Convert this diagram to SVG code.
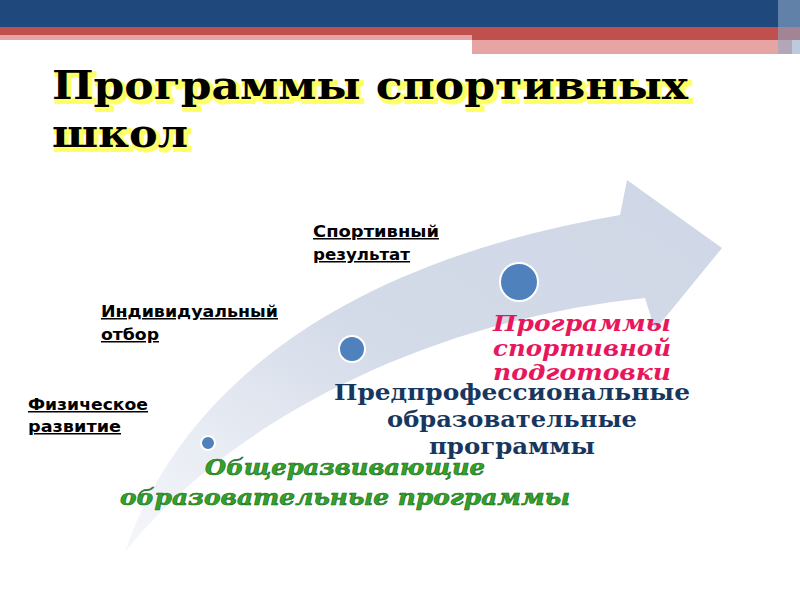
<svg xmlns="http://www.w3.org/2000/svg" width="800" height="600" viewBox="0 0 800 600">
<defs>
<style>
.lbl{font-family:"DejaVu Sans","Liberation Sans",sans-serif;font-weight:bold;font-size:15px;fill:#000;text-decoration:underline}
.ttl{font-family:"DejaVu Serif","Liberation Serif",serif;font-weight:bold;font-size:40px}
.big{font-family:"DejaVu Serif","Liberation Serif",serif;font-weight:bold;font-size:22px;text-anchor:middle}
.dot{fill:#4f81bd;stroke:#fff;stroke-width:2}
</style>
<linearGradient id="ag" x1="0" y1="1" x2="1" y2="0">
<stop offset="0" stop-color="#dde3ee" stop-opacity="0.3"/>
<stop offset="0.5" stop-color="#d3dae8"/>
<stop offset="1" stop-color="#cfd7e6"/>
</linearGradient>
</defs>
<rect width="800" height="600" fill="#fff"/>
<rect x="0" y="0" width="800" height="27" fill="#1f497d"/>
<rect x="0" y="27" width="800" height="13" fill="#c0504d"/>
<rect x="0" y="35" width="472" height="5" fill="#e6a5a4"/>
<rect x="472" y="40" width="320" height="14" fill="#e6a5a4"/>
<rect x="778" y="0" width="22" height="54" fill="#8fa7c6" opacity="0.6"/>
<g id="title">
<text class="ttl" x="55" y="102" fill="#ffff66" stroke="#ffff66" stroke-width="4" textLength="636" lengthAdjust="spacingAndGlyphs">Программы спортивных</text>
<text class="ttl" x="55" y="150" fill="#ffff66" stroke="#ffff66" stroke-width="4" textLength="136" lengthAdjust="spacingAndGlyphs">школ</text>
<text class="ttl" x="52" y="99" fill="#000" textLength="636" lengthAdjust="spacingAndGlyphs">Программы спортивных</text>
<text class="ttl" x="52" y="147" fill="#000" textLength="136" lengthAdjust="spacingAndGlyphs">школ</text>
</g>
<g id="arrow">
<path d="M125,552 C170,420 300,270 620,215 L627,180 L722,248 L655,330 L645,298 C430,320 230,420 125,552 Z" fill="url(#ag)"/>
</g>
<g id="connectors"></g>
<g id="n1"><circle class="dot" cx="208" cy="443" r="7"/>
<text class="lbl" x="28" y="410" textLength="120" lengthAdjust="spacingAndGlyphs">Физическое</text><text class="lbl" x="28" y="432" textLength="93" lengthAdjust="spacingAndGlyphs">развитие</text></g>
<g id="n2"><circle class="dot" cx="352" cy="349" r="13"/>
<text class="lbl" x="101" y="317" textLength="177" lengthAdjust="spacingAndGlyphs">Индивидуальный</text><text class="lbl" x="101" y="340" textLength="58" lengthAdjust="spacingAndGlyphs">отбор</text></g>
<g id="n3"><circle class="dot" cx="519" cy="282" r="19"/>
<text class="lbl" x="313" y="237" textLength="126" lengthAdjust="spacingAndGlyphs">Спортивный</text><text class="lbl" x="313" y="260" textLength="97" lengthAdjust="spacingAndGlyphs">результат</text></g>
<g id="t1" class="big">
<text x="345" y="475" font-style="italic" fill="#33a02c" stroke="#1b6e1b" stroke-width="0.6" textLength="280" lengthAdjust="spacingAndGlyphs">Общеразвивающие</text>
<text x="345" y="505" font-style="italic" fill="#33a02c" stroke="#1b6e1b" stroke-width="0.6" textLength="450" lengthAdjust="spacingAndGlyphs">образовательные программы</text>
</g>
<g id="t2" class="big">
<text x="512" y="400" fill="#17375e" textLength="356" lengthAdjust="spacingAndGlyphs">Предпрофессиональные</text>
<text x="512" y="427" fill="#17375e" textLength="250" lengthAdjust="spacingAndGlyphs">образовательные</text>
<text x="512" y="454" fill="#17375e" textLength="166" lengthAdjust="spacingAndGlyphs">программы</text>
</g>
<g id="t3" class="big" font-style="italic">
<text x="582" y="331" fill="#e8175d" textLength="178" lengthAdjust="spacingAndGlyphs">Программы</text>
<text x="582" y="356" fill="#e8175d" textLength="178" lengthAdjust="spacingAndGlyphs">спортивной</text>
<text x="582" y="380" fill="#e8175d" textLength="178" lengthAdjust="spacingAndGlyphs">подготовки</text>
</g>
</svg>
